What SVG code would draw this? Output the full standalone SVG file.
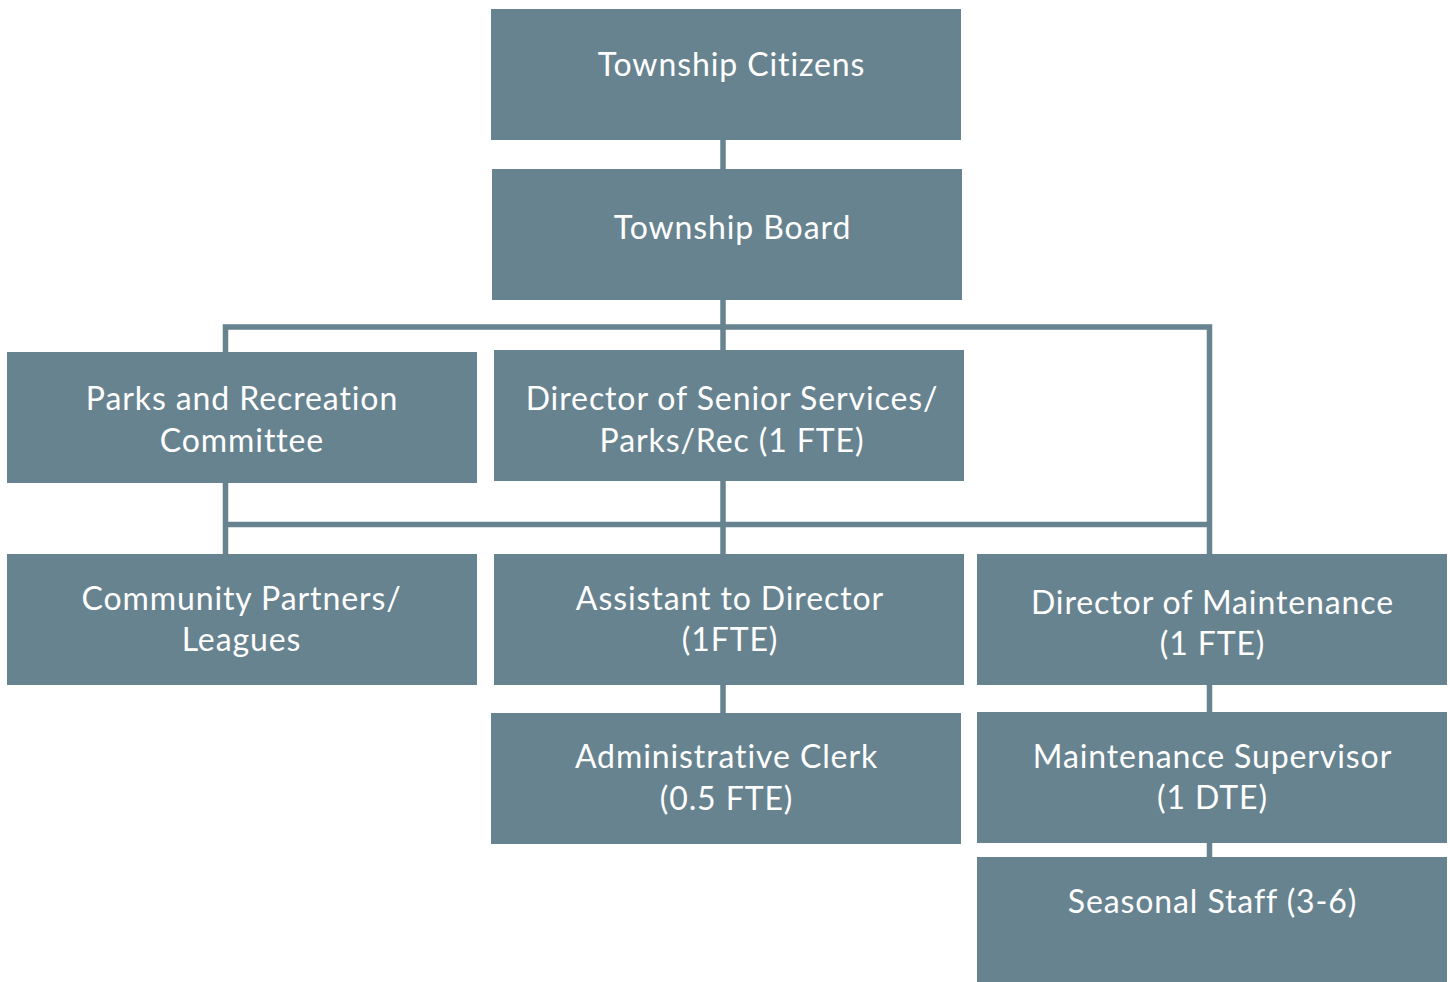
<svg xmlns="http://www.w3.org/2000/svg" width="1450" height="982" viewBox="0 0 1450 982">
<style>
.box{fill:#678390}
.t{font-family:Lato,"Open Sans","Liberation Sans",sans-serif;font-size:32px;letter-spacing:0.9px;fill:#ffffff;text-anchor:middle}
.c{stroke:#678390;stroke-width:5.5;fill:none}
</style>
<rect width="1450" height="982" fill="#ffffff"/>
<g id="connectors">
<line class="c" x1="723" y1="138" x2="723" y2="171"/>
<line class="c" x1="723" y1="298" x2="723" y2="352"/>
<line class="c" x1="723" y1="479" x2="723" y2="556"/>
<line class="c" x1="723" y1="683" x2="723" y2="715"/>
<polyline class="c" points="225.5,354 225.5,327 1209.5,327 1209.5,556"/>
<line class="c" x1="225.5" y1="481" x2="225.5" y2="556"/>
<line class="c" x1="223" y1="524.5" x2="1212" y2="524.5"/>
<line class="c" x1="1209.5" y1="683" x2="1209.5" y2="714"/>
<line class="c" x1="1209.5" y1="841" x2="1209.5" y2="859"/>
</g>
<g id="n-citizens"><rect class="box" x="491" y="9" width="470" height="131"/><text class="t" x="731.5" y="76">Township Citizens</text></g>
<g id="n-board"><rect class="box" x="492" y="169" width="470" height="131"/><text class="t" x="732.5" y="239">Township Board</text></g>
<g id="n-parks"><rect class="box" x="7" y="352" width="470" height="131"/><text class="t" x="242" y="410">Parks and Recreation</text><text class="t" x="242" y="452">Committee</text></g>
<g id="n-senior"><rect class="box" x="494" y="350" width="470" height="131"/><text class="t" x="732" y="410">Director of Senior Services/</text><text class="t" x="732" y="452">Parks/Rec (1 FTE)</text></g>
<g id="n-community"><rect class="box" x="7" y="554" width="470" height="131"/><text class="t" x="241.5" y="610">Community Partners/</text><text class="t" x="241.5" y="651">Leagues</text></g>
<g id="n-assistant"><rect class="box" x="494" y="554" width="470" height="131"/><text class="t" x="730" y="610">Assistant to Director</text><text class="t" x="730" y="651">(1FTE)</text></g>
<g id="n-maint-dir"><rect class="box" x="977" y="554" width="470" height="131"/><text class="t" x="1212.5" y="614">Director of Maintenance</text><text class="t" x="1212.5" y="655">(1 FTE)</text></g>
<g id="n-clerk"><rect class="box" x="491" y="713" width="470" height="131"/><text class="t" x="726.5" y="768">Administrative Clerk</text><text class="t" x="726.5" y="810">(0.5 FTE)</text></g>
<g id="n-supervisor"><rect class="box" x="977" y="712" width="470" height="131"/><text class="t" x="1212.5" y="768">Maintenance Supervisor</text><text class="t" x="1212.5" y="809">(1 DTE)</text></g>
<g id="n-seasonal"><rect class="box" x="977" y="857" width="470" height="125"/><text class="t" x="1212.5" y="913">Seasonal Staff (3-6)</text></g>
</svg>
